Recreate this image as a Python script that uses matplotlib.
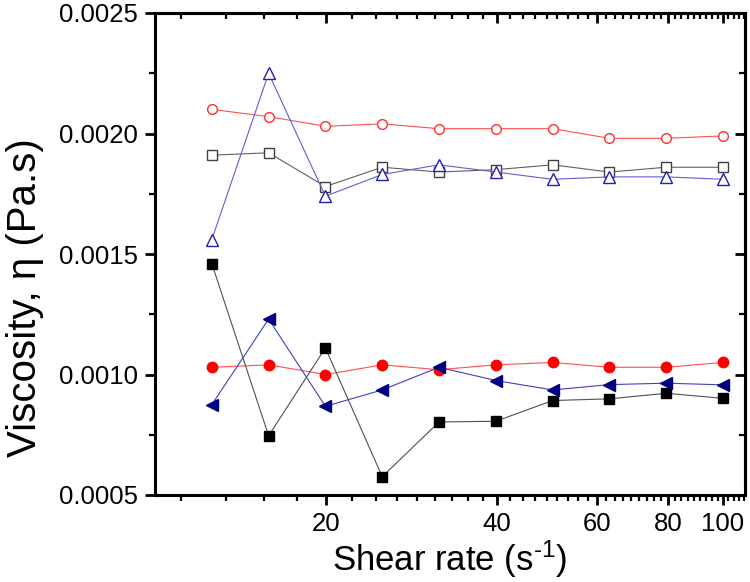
import numpy as np
import matplotlib
matplotlib.use("Agg")
import matplotlib.pyplot as plt
from matplotlib.ticker import FixedLocator, NullFormatter, FixedFormatter

plt.rcParams['font.family'] = ['Liberation Sans', 'DejaVu Sans']
plt.rcParams['mathtext.fontset'] = 'custom'
plt.rcParams['mathtext.rm'] = 'Liberation Sans'
plt.rcParams['mathtext.it'] = 'Liberation Sans:italic'

# Data (shear rate, s^-1)
shear_rate = [12.59, 15.85, 19.95, 25.12, 31.62, 39.81, 50.12, 63.10, 79.43, 100.0]

open_circle_red = [0.00210, 0.00207, 0.00203, 0.00204, 0.00202, 0.00202, 0.00202, 0.00198, 0.00198, 0.00199]
open_square = [0.00191, 0.00192, 0.00178, 0.00186, 0.00184, 0.00185, 0.00187, 0.00184, 0.00186, 0.00186]
open_triangle = [0.00156, 0.00225, 0.00174, 0.00183, 0.00187, 0.00184, 0.00181, 0.00182, 0.00182, 0.00181]
filled_circle_red = [0.00103, 0.00104, 0.00100, 0.00104, 0.00102, 0.00104, 0.00105, 0.00103, 0.00103, 0.00105]
filled_square = [0.00146, 0.000746, 0.00111, 0.000576, 0.000803, 0.000806, 0.000892, 0.000899, 0.000922, 0.000901]
filled_ltriangle = [0.000875, 0.00123, 0.000868, 0.000936, 0.00103, 0.000975, 0.000936, 0.000958, 0.000964, 0.000957]

x_major = [20, 40, 60, 80, 100]
x_labels = ['20', '40', '60', '80', '100']
y_major = [0.0005, 0.0010, 0.0015, 0.0020, 0.0025]
y_labels = ['0.0005', '0.0010', '0.0015', '0.0020', '0.0025']

fig = plt.figure(figsize=(7.5, 5.82), dpi=100)
ax = fig.add_axes([155/750, 1-495/582, 590/750, 482/582])

lw = 0.8
ax.plot(shear_rate, open_circle_red, '-o', color='#ff5050', lw=lw, ms=7, mfc='white', mec='#ff3030', mew=1.0, zorder=3)
ax.plot(shear_rate, open_square, '-s', color='#606060', lw=lw, ms=6.5, mfc='white', mec='#404040', mew=1.0, zorder=3)
ax.plot(shear_rate, open_triangle, '-^', color='#6060d0', lw=lw, ms=8, mfc='white', mec='#2020b0', mew=1.0, zorder=3)
ax.plot(shear_rate, filled_circle_red, '-o', color='#ff5050', lw=lw, ms=7.5, mfc='#ff0000', mec='#ff0000', mew=1.0, zorder=3)
ax.plot(shear_rate, filled_square, '-s', color='#505050', lw=lw, ms=6.5, mfc='black', mec='black', mew=1.0, zorder=3)
ax.plot(shear_rate, filled_ltriangle, '-<', color='#4040c0', lw=lw, ms=9, mfc='#000080', mec='#000080', mew=1.0, zorder=3)

ax.set_xscale('log')
ax.set_xlim(10, 109.3)
ax.set_ylim(0.0005, 0.0025)

minor_x = [v for v in np.arange(1, 50) * (20/9) if 10 < v < 109.3 and all(abs(v - m) > 0.01 for m in x_major)]
minor_y = [0.00075, 0.00125, 0.00175, 0.00225]

ax.xaxis.set_major_locator(FixedLocator(x_major))
ax.xaxis.set_major_formatter(FixedFormatter(x_labels))
ax.xaxis.set_minor_locator(FixedLocator(minor_x))
ax.xaxis.set_minor_formatter(NullFormatter())
ax.yaxis.set_major_locator(FixedLocator(y_major))
ax.yaxis.set_major_formatter(FixedFormatter(y_labels))
ax.yaxis.set_minor_locator(FixedLocator(minor_y))

for s in ax.spines.values():
    s.set_linewidth(2.2)

ax.tick_params(which='major', direction='out', length=7, width=2, labelsize=18.5, pad=5)
ax.tick_params(which='minor', direction='out', length=4, width=1.6)

# mirrored inward ticks on top and right
secx = ax.secondary_xaxis('top')
secx.xaxis.set_major_locator(FixedLocator(x_major))
secx.xaxis.set_minor_locator(FixedLocator(minor_x))
secx.xaxis.set_major_formatter(NullFormatter())
secx.xaxis.set_minor_formatter(NullFormatter())
secx.tick_params(which='major', direction='in', length=7, width=2)
secx.tick_params(which='minor', direction='in', length=4, width=1.6)
secx.spines['top'].set_linewidth(2.2)

secy = ax.secondary_yaxis('right')
secy.yaxis.set_major_locator(FixedLocator(y_major))
secy.yaxis.set_minor_locator(FixedLocator(minor_y))
secy.yaxis.set_major_formatter(NullFormatter())
secy.yaxis.set_minor_formatter(NullFormatter())
secy.tick_params(which='major', direction='in', length=7, width=2)
secy.tick_params(which='minor', direction='in', length=4, width=1.6)
secy.spines['right'].set_linewidth(2.2)

ax.set_xlabel('Shear rate (s$^{\u2010 1}$)', fontsize=25)
ax.xaxis.set_label_coords(0.5, -0.09)
ax.set_ylabel('Viscosity, η (Pa.s)', fontsize=29)
ax.yaxis.set_label_coords(-0.188, 0.41)

fig.savefig('out.png', dpi=100)
